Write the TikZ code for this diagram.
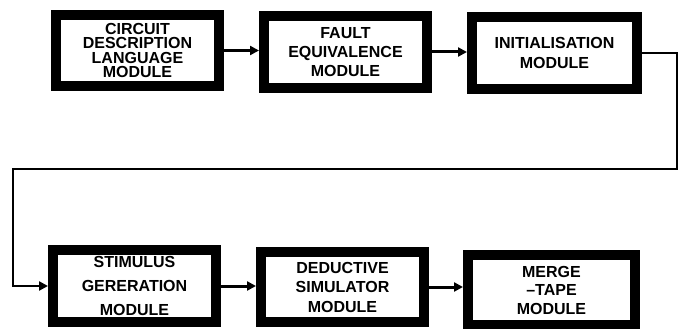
\documentclass[tikz,border=0pt]{standalone}
\usepackage{fontspec}
\setmainfont{Liberation Sans}
\usetikzlibrary{arrows.meta}
\begin{document}
\begin{tikzpicture}[x=1pt,y=-1pt,
  module/.style={draw=black, line width=10pt, fill=white, rectangle, inner sep=0pt,
    align=center, font=\fontsize{16}{19}\selectfont\bfseries},
  conn/.style={draw=black, line width=3pt, -{Triangle[length=9pt,width=9pt]}}]
\useasboundingbox (0,0) rectangle (683,329);
\node[module, minimum width=163pt, minimum height=71pt, font=\fontsize{16}{14.5}\selectfont\bfseries] (b1) at (137.5,50.5) {CIRCUIT\\DESCRIPTION\\LANGUAGE\\MODULE};
\node[module, minimum width=163pt, minimum height=72pt] (b2) at (345.5,52) {FAULT\\EQUIVALENCE\\MODULE};
\node[module, minimum width=165pt, minimum height=72pt, font=\fontsize{16}{20}\selectfont\bfseries] (b3) at (554.5,53) {INITIALISATION\\MODULE};
\node[module, minimum width=163pt, minimum height=72pt, font=\fontsize{16}{24}\selectfont\bfseries] (b4) at (134.5,286) {STIMULUS\\GERERATION\\MODULE};
\node[module, minimum width=163pt, minimum height=70pt, font=\fontsize{16}{19.5}\selectfont\bfseries] (b5) at (342.5,287) {DEDUCTIVE\\SIMULATOR\\MODULE};
\node[module, minimum width=167pt, minimum height=70pt, font=\fontsize{16}{18.5}\selectfont\bfseries] (b6) at (551.5,290) {MERGE\\--TAPE\\MODULE};
\coordinate (r1) at (677,53);
\coordinate (l1) at (13,169);
\draw[conn] (b1.east) -- (b2.west |- b1.east);
\draw[conn] (b2.east) -- (b3.west |- b2.east);
\draw[conn] (b4.east) -- (b5.west |- b4.east);
\draw[conn] (b5.east) -- (b6.west |- b5.east);
\draw[conn, line width=2.5pt, line join=miter] (b3.east) -- (r1) |- (l1) |- (b4.west);
\end{tikzpicture}
\end{document}
